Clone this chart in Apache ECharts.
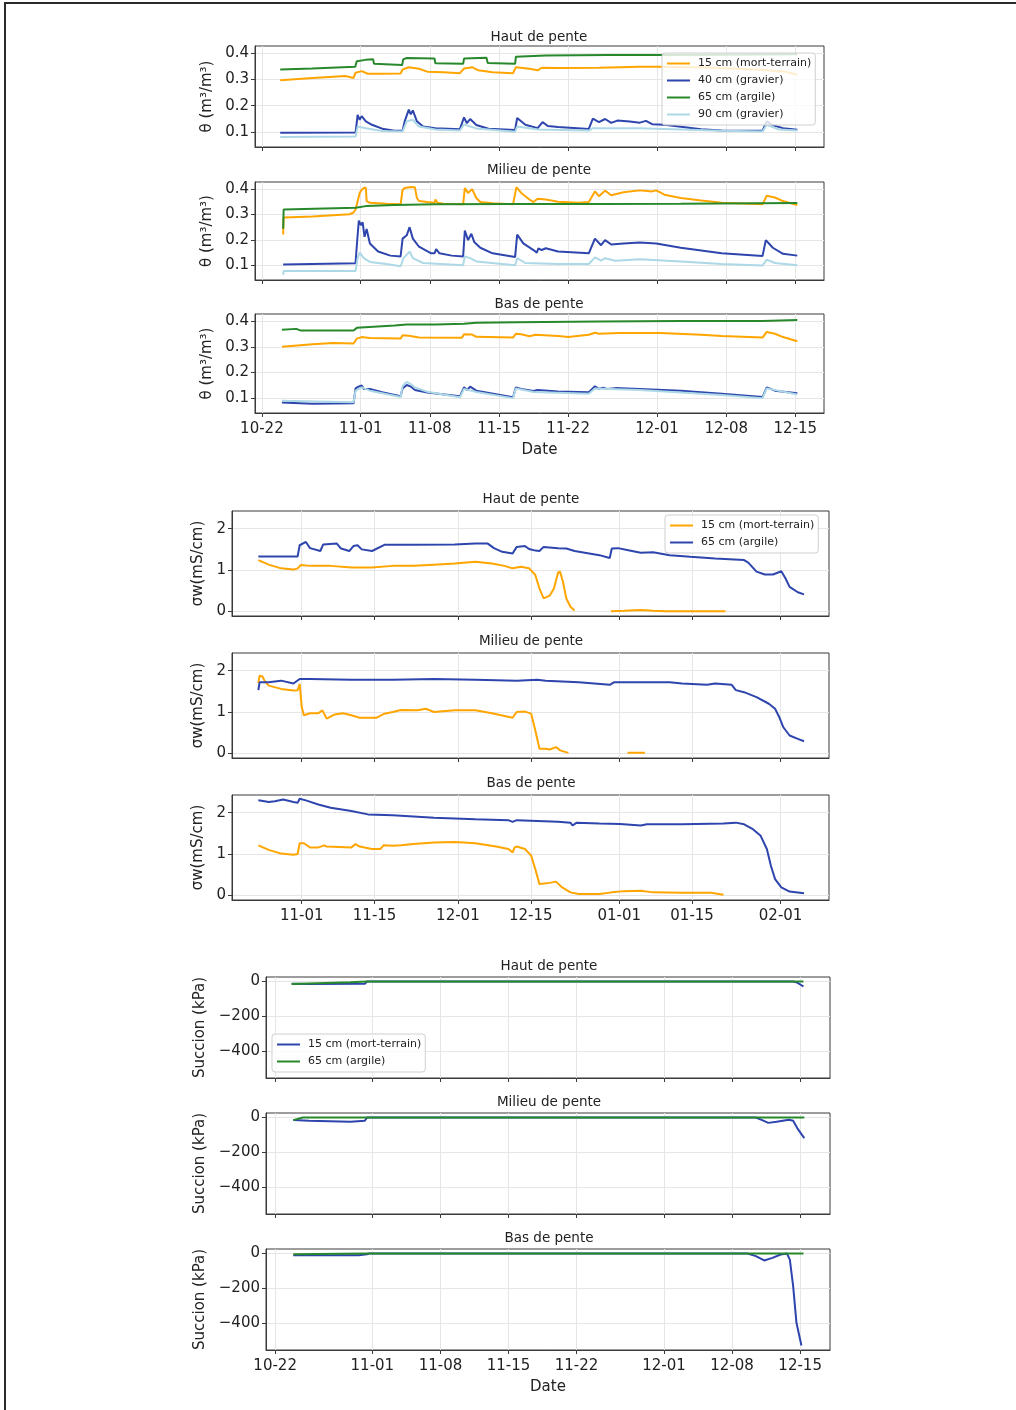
<!DOCTYPE html>
<html><head><meta charset="utf-8">
<script src="https://cdn.jsdelivr.net/npm/echarts@6/dist/echarts.min.js"></script>
<style>
html,body{margin:0;padding:0;background:#fff;overflow:hidden;width:1016px;height:1410px;}
#c{width:1016px;height:1410px;position:absolute;left:0;top:0;}
#frame{position:absolute;left:4px;top:2px;width:1030px;height:1430px;border-left:2px solid #2b2b2b;border-top:2px solid #2b2b2b;pointer-events:none;}
</style>
</head><body><div id="c"></div><div id="frame"></div>
<script>
// x values = days elapsed since 2021-10-22 (00:00)
const T0 = Date.UTC(2021, 9, 22);

// ---- tick labels ----
const thetaTicks = ['10-22','11-01','11-08','11-15','11-22','12-01','12-08','12-15'];
const sigmaTicks = ['11-01','11-15','12-01','12-15','01-01','01-15','02-01'];
const succionTicks = ['10-22','11-01','11-08','11-15','11-22','12-01','12-08','12-15'];
const thetaYTicks = [0.1, 0.2, 0.3, 0.4];
const sigmaYTicks = [0, 1, 2];
const succionYTicks = [-400, -200, 0];

// ---- names ----
const n15 = '15 cm (mort-terrain)', n40 = '40 cm (gravier)', n65 = '65 cm (argile)', n90 = '90 cm (gravier)';

// ---- θ Haut de pente ----
const hautT15 = [[1.85,0.297],[5.13,0.306],[8.45,0.313],[9.28,0.306],[9.48,0.326],[10.1,0.332],[10.72,0.322],[12.17,0.322],[14.04,0.323],[14.24,0.338],[14.87,0.347],[15.9,0.341],[16.73,0.330],[18.39,0.328],[20.04,0.324],[20.46,0.342],[21.28,0.347],[21.9,0.335],[23.35,0.328],[25.42,0.324],[25.71,0.347],[27.08,0.341],[27.91,0.335],[28.32,0.345],[29.98,0.344],[34.12,0.345],[38.26,0.349],[40,0.349],[45,0.346],[50,0.338],[53,0.330],[54.2,0.318]];
const hautT40 = [[1.85,0.096],[9.48,0.097],[9.69,0.165],[9.9,0.146],[10.1,0.160],[10.52,0.140],[11.14,0.127],[12.17,0.112],[13.42,0.104],[14.24,0.104],[14.45,0.140],[14.87,0.185],[15.07,0.167],[15.28,0.182],[15.69,0.140],[16.31,0.120],[17.56,0.114],[20.04,0.110],[20.46,0.155],[20.75,0.133],[21.08,0.149],[21.7,0.126],[22.94,0.112],[25.63,0.107],[25.84,0.153],[26.67,0.127],[27.91,0.114],[28.41,0.137],[28.94,0.122],[29.98,0.118],[33.09,0.111],[33.5,0.150],[34.12,0.137],[34.74,0.149],[35.36,0.134],[35.98,0.143],[37.23,0.139],[38.26,0.135],[38.88,0.142],[39.5,0.129],[40.75,0.127],[44.47,0.110],[46.54,0.105],[50.68,0.104],[51.1,0.140],[51.72,0.125],[52.75,0.114],[54.2,0.108]];
const hautT65 = [[1.85,0.338],[5.1,0.342],[9.45,0.349],[9.6,0.370],[10.5,0.375],[11.26,0.377],[11.35,0.360],[14.2,0.355],[14.3,0.377],[14.66,0.382],[17.47,0.380],[17.56,0.362],[20.37,0.360],[20.46,0.380],[22.73,0.383],[22.86,0.363],[25.63,0.360],[25.71,0.387],[28.74,0.392],[35,0.394],[40,0.394],[46,0.395],[54.2,0.396]];
const hautT90 = [[1.85,0.080],[9.48,0.082],[9.69,0.120],[10.52,0.114],[12.17,0.103],[14.24,0.101],[14.66,0.140],[15.28,0.146],[15.9,0.120],[17.56,0.109],[20.04,0.105],[20.46,0.128],[21.7,0.113],[25.63,0.100],[25.84,0.120],[27.91,0.109],[33.09,0.105],[33.5,0.114],[38.26,0.114],[46.54,0.104],[50.68,0.101],[51.1,0.127],[52.34,0.109],[54.2,0.105]];

// ---- θ Milieu de pente ----
const milieuT15 = [[2.15,0.221],[2.2,0.288],[5.13,0.292],[8.86,0.301],[9.28,0.308],[9.48,0.320],[9.9,0.385],[10.1,0.397],[10.31,0.404],[10.52,0.405],[10.6,0.353],[10.93,0.346],[12.59,0.342],[14.04,0.340],[14.24,0.397],[14.45,0.404],[15.07,0.408],[15.49,0.407],[15.69,0.365],[15.9,0.353],[16.73,0.349],[17.47,0.346],[17.56,0.359],[17.76,0.346],[18.39,0.342],[20.37,0.340],[20.54,0.404],[20.87,0.385],[21.28,0.400],[21.7,0.365],[22.11,0.349],[23.35,0.344],[25.42,0.340],[25.76,0.408],[26.25,0.385],[27.08,0.359],[27.49,0.349],[27.91,0.362],[28.74,0.359],[29.98,0.350],[32.05,0.346],[33.09,0.349],[33.71,0.391],[34.12,0.372],[34.74,0.394],[35.36,0.376],[36.6,0.388],[38.26,0.395],[39.5,0.391],[39.92,0.395],[40.75,0.378],[42.4,0.365],[44.47,0.355],[46.54,0.346],[50.68,0.340],[51.1,0.374],[51.93,0.367],[52.75,0.353],[54.2,0.337]];
const milieuT40 = [[2.15,0.103],[9.48,0.108],[9.61,0.180],[9.81,0.276],[10.02,0.258],[10.19,0.270],[10.39,0.212],[10.6,0.243],[10.93,0.186],[11.76,0.154],[13.0,0.138],[14.04,0.135],[14.24,0.205],[14.66,0.218],[14.95,0.250],[15.28,0.205],[15.9,0.173],[17.14,0.147],[17.47,0.147],[17.64,0.164],[17.97,0.147],[19.21,0.138],[20.37,0.135],[20.54,0.237],[20.87,0.199],[21.2,0.224],[21.49,0.192],[22.11,0.169],[23.35,0.147],[25.63,0.133],[25.84,0.221],[26.46,0.186],[27.49,0.160],[27.83,0.150],[27.99,0.167],[28.32,0.160],[28.74,0.167],[29.98,0.154],[33.09,0.147],[33.71,0.205],[34.33,0.179],[34.74,0.199],[35.36,0.182],[36.6,0.186],[38.26,0.190],[39.92,0.186],[42.4,0.169],[46.54,0.147],[50.68,0.137],[51.01,0.199],[51.72,0.169],[52.75,0.145],[54.2,0.138]];
const milieuT65 = [[2.15,0.244],[2.2,0.320],[9.48,0.327],[10.52,0.333],[13.42,0.337],[17.56,0.340],[25.84,0.341],[34.12,0.341],[42.4,0.342],[54.2,0.345]];
const milieuT90 = [[2.15,0.062],[2.2,0.077],[9.48,0.077],[9.69,0.128],[9.9,0.150],[10.31,0.128],[10.93,0.113],[12.59,0.105],[14.04,0.096],[14.33,0.128],[14.95,0.154],[15.28,0.128],[16.31,0.109],[20.37,0.100],[20.54,0.135],[21.08,0.128],[21.7,0.115],[25.63,0.100],[25.84,0.128],[26.67,0.109],[29.98,0.105],[33.09,0.105],[33.71,0.131],[34.33,0.118],[34.74,0.128],[35.78,0.118],[38.26,0.124],[42.4,0.115],[46.54,0.105],[50.68,0.099],[51.1,0.122],[51.93,0.109],[54.2,0.100]];

// ---- θ Bas de pente ----
const basT15 = [[2.03,0.300],[5.13,0.310],[7.2,0.315],[9.28,0.313],[9.48,0.310],[9.61,0.332],[10.1,0.338],[10.93,0.334],[14.04,0.332],[14.24,0.345],[14.87,0.343],[15.9,0.336],[20.25,0.335],[20.46,0.349],[21.28,0.348],[21.7,0.339],[25.42,0.336],[25.71,0.351],[26.25,0.349],[27.08,0.341],[27.7,0.347],[29.98,0.342],[31.01,0.338],[33.09,0.347],[33.71,0.355],[34.12,0.351],[36.19,0.354],[40.33,0.354],[44.47,0.347],[46.54,0.342],[50.68,0.336],[51.1,0.358],[51.93,0.351],[52.75,0.338],[54.2,0.322]];
const basT40 = [[2.03,0.083],[5.13,0.078],[9.28,0.080],[9.48,0.138],[9.77,0.145],[10.1,0.149],[10.31,0.136],[10.93,0.136],[12.17,0.123],[14.04,0.107],[14.24,0.138],[14.66,0.151],[15.07,0.145],[15.49,0.132],[16.73,0.122],[20.04,0.107],[20.46,0.142],[20.79,0.132],[21.08,0.145],[21.7,0.129],[25.42,0.103],[25.71,0.142],[26.25,0.136],[27.49,0.128],[27.91,0.132],[29.98,0.126],[33.09,0.123],[33.71,0.146],[34.12,0.136],[34.53,0.141],[34.95,0.136],[35.78,0.139],[38.26,0.136],[42.4,0.129],[46.54,0.117],[50.68,0.104],[51.1,0.142],[51.93,0.129],[54.2,0.119]];
const basT65 = [[2.03,0.367],[3.48,0.370],[3.89,0.364],[9.28,0.364],[9.61,0.374],[13.42,0.383],[14.66,0.387],[17.56,0.387],[20.46,0.390],[21.7,0.394],[25.84,0.396],[34.12,0.399],[42.4,0.401],[50.68,0.401],[54.2,0.405]];
const basT90 = [[2.03,0.090],[9.28,0.084],[9.48,0.129],[10.1,0.142],[10.93,0.129],[14.04,0.104],[14.24,0.147],[14.66,0.163],[15.07,0.155],[15.49,0.142],[16.73,0.125],[20.04,0.103],[20.46,0.136],[21.7,0.124],[25.42,0.100],[25.71,0.138],[27.49,0.124],[33.09,0.117],[33.71,0.138],[38.26,0.132],[46.54,0.112],[50.68,0.100],[51.1,0.138],[54.2,0.114]];

// ---- σw ----
const hautS15 = [[1.66,1.24],[3.65,1.13],[6.03,1.04],[8.41,1.01],[9.21,1.04],[9.84,1.12],[11.59,1.10],[15.56,1.10],[19.53,1.06],[23.5,1.06],[27.47,1.10],[31.45,1.10],[35.42,1.13],[39.39,1.16],[43.36,1.20],[46.54,1.16],[48.92,1.10],[50.51,1.04],[52.1,1.08],[53.69,1.04],[54.88,0.88],[55.67,0.55],[56.47,0.31],[57.66,0.38],[58.45,0.55],[59.25,0.94],[59.64,0.96],[60.2,0.71],[60.83,0.31],[61.63,0.11],[62.42,0.02],[65,null],[69.41,0.00],[71.95,0.01],[75.13,0.03],[77.51,0.01],[79.9,0.00],[91.41,0.00]];
const hautS65 = [[1.66,1.33],[9.21,1.33],[9.6,1.60],[10.79,1.68],[11.59,1.53],[13.57,1.46],[14.13,1.62],[16.75,1.64],[17.55,1.52],[19.13,1.46],[19.93,1.58],[20.72,1.60],[21.52,1.50],[23.5,1.46],[25.89,1.61],[31.45,1.61],[39.39,1.62],[43.36,1.64],[45.74,1.64],[46.93,1.53],[48.52,1.44],[50.51,1.40],[51.3,1.56],[52.89,1.58],[53.69,1.51],[54.88,1.47],[55.67,1.46],[56.47,1.56],[59.25,1.53],[60.83,1.52],[62.42,1.46],[67.19,1.36],[69.17,1.29],[69.57,1.52],[70.76,1.53],[72.75,1.48],[75.13,1.42],[77.51,1.43],[80.69,1.36],[84.66,1.32],[89.43,1.28],[94.99,1.24],[95.79,1.18],[97.37,0.96],[98.96,0.89],[100.55,0.89],[102.14,0.97],[102.93,0.80],[103.73,0.59],[105.31,0.46],[106.5,0.41]];
const milieuS15 = [[1.66,1.70],[1.9,1.88],[2.45,1.86],[2.85,1.76],[3.65,1.64],[6.03,1.56],[8.41,1.52],[9.21,1.53],[9.6,1.68],[10.0,1.12],[10.4,0.92],[11.59,0.97],[13.18,0.97],[13.97,1.04],[14.77,0.84],[16.35,0.94],[17.94,0.97],[19.53,0.92],[21.12,0.86],[24.3,0.86],[25.89,0.96],[27.47,1.00],[29.06,1.05],[32.24,1.04],[33.83,1.08],[35.42,1.00],[39.39,1.04],[43.36,1.04],[46.54,0.97],[50.51,0.86],[51.3,1.00],[52.89,1.01],[54.08,0.96],[54.88,0.55],[55.67,0.11],[56.86,0.11],[57.66,0.09],[58.85,0.15],[59.64,0.07],[61.23,0.01],[66,null],[72.59,0.01],[75.93,0.01]];
const milieuS65 = [[1.66,1.53],[1.9,1.72],[3.65,1.72],[6.03,1.76],[8.41,1.69],[9.6,1.80],[11.59,1.80],[19.53,1.78],[27.47,1.78],[35.42,1.80],[43.36,1.78],[51.3,1.76],[55.27,1.78],[56.86,1.76],[63.22,1.72],[69.17,1.66],[69.97,1.72],[75.13,1.72],[80.69,1.72],[83.07,1.69],[87.84,1.66],[89.43,1.69],[92.6,1.66],[93.4,1.53],[94.99,1.48],[97.37,1.36],[99.75,1.20],[100.94,1.08],[101.73,0.88],[102.53,0.63],[103.73,0.43],[105.31,0.35],[106.5,0.29]];
const basS15 = [[1.66,1.21],[3.65,1.10],[6.03,1.01],[8.41,0.98],[9.21,1.00],[9.6,1.26],[10.4,1.26],[11.59,1.16],[13.18,1.16],[14.37,1.21],[14.77,1.18],[19.53,1.16],[20.33,1.24],[21.12,1.18],[23.5,1.12],[25.09,1.12],[25.73,1.21],[27.47,1.20],[29.06,1.21],[31.45,1.24],[35.42,1.28],[39.39,1.29],[43.36,1.26],[47.33,1.18],[49.71,1.12],[50.51,1.04],[50.91,1.16],[51.3,1.18],[52.89,1.12],[54.08,0.96],[54.88,0.63],[55.67,0.27],[57.66,0.30],[58.85,0.33],[60.04,0.19],[61.63,0.07],[63.22,0.03],[67.19,0.03],[69.57,0.07],[71.95,0.10],[75.13,0.11],[77.51,0.07],[83.07,0.06],[88.63,0.06],[91.02,0.01]];
const basS65 = [[1.66,2.30],[2.85,2.28],[3.65,2.26],[4.84,2.28],[6.43,2.32],[8.41,2.26],[9.21,2.24],[9.6,2.34],[10.79,2.30],[13.18,2.20],[15.56,2.12],[19.53,2.04],[22.71,1.96],[27.47,1.94],[35.42,1.88],[43.36,1.84],[49.71,1.82],[50.51,1.78],[51.3,1.82],[59.25,1.78],[61.63,1.76],[62.03,1.69],[62.82,1.76],[67.19,1.74],[71.16,1.73],[75.13,1.69],[76.32,1.72],[83.07,1.72],[91.02,1.74],[93.4,1.76],[94.99,1.72],[96.58,1.61],[98.17,1.44],[99.36,1.12],[100.15,0.71],[100.94,0.39],[102.14,0.19],[103.73,0.09],[106.5,0.05]];

// ---- Succion ----
const hautU15 = [[1.7,-13],[3.49,-14],[9.23,-13],[9.45,0],[53.28,0],[53.7,-6],[54.34,-29]];
const hautU65 = [[1.7,-14],[7.74,-4],[9.45,0],[54.34,0]];
const milieuU15 = [[1.87,-15],[3.49,-19],[7.74,-25],[9.23,-19],[9.45,0],[49.45,0],[50.09,-15],[50.72,-31],[51.57,-25],[52.85,-13],[53.28,-19],[53.7,-61],[54.13,-96],[54.43,-119]];
const milieuU65 = [[1.87,-15],[2.85,0],[54.43,0]];
const basU15 = [[1.87,-10],[8.6,-10],[9.45,-4],[9.66,0],[48.6,0],[49.45,-15],[50.3,-40],[51.15,-25],[52.0,-6],[52.64,0],[52.94,-35],[53.28,-188],[53.62,-400],[54.13,-531]];
const basU65 = [[1.87,-4],[9.45,0],[54.34,0]];

// ---- styling ----
const ORANGE = '#ffa500', BLUE = '#2e45ad', GREEN = '#27892b', LBLUE = '#add8e6';
const FONT = 'DejaVu Sans';
const TXT = '#222';
const AX = '#3a3a3a';

function toTime(d) { return T0 + d * 86400000; }
function parseTick(s) {
  const m = +s.slice(0, 2), d = +s.slice(3);
  return Date.UTC(m >= 7 ? 2021 : 2022, m - 1, d);
}
function pad(n) { return (n < 10 ? '0' : '') + n; }
function fmtDate(v) { const dt = new Date(v); return pad(dt.getUTCMonth() + 1) + '-' + pad(dt.getUTCDate()); }
function fmtMinus(v) { return v < 0 ? '\u2212' + Math.abs(v) : String(v); }

const grids = [
  {left:255, top:46,  width:569, height:101},
  {left:255, top:182, width:569, height:98},
  {left:255, top:314, width:569, height:99},
  {left:232, top:511, width:597, height:105},
  {left:232, top:653, width:597, height:105},
  {left:232, top:795, width:597, height:105},
  {left:266, top:977, width:564, height:101},
  {left:266, top:1113, width:564, height:101},
  {left:266, top:1249, width:564, height:101}
].map(g => Object.assign({show:true, borderColor:AX, borderWidth:1, backgroundColor:'transparent'}, g));

const xRanges = [[-0.7,56.9],[-0.7,56.9],[-0.7,56.9],[-3.4,111.3],[-3.4,111.3],[-3.4,111.3],[-0.94,57.07],[-0.94,57.07],[-0.94,57.07]];
const xTickSets = [thetaTicks,thetaTicks,thetaTicks,sigmaTicks,sigmaTicks,sigmaTicks,succionTicks,succionTicks,succionTicks];
const labelShown = [false,false,true,false,false,true,false,false,true];

const xAxes = grids.map((g, i) => {
  const ticks = xTickSets[i].map(parseTick);
  const ax = {
    type:'value', gridIndex:i, min:toTime(xRanges[i][0]), max:toTime(xRanges[i][1]), scale:true,
    axisLine:{show:true, onZero:false, lineStyle:{color:AX, width:1}},
    axisTick:{show:true, length:4, lineStyle:{color:AX, width:1}, customValues:ticks},
    axisLabel:{show:labelShown[i], customValues:ticks, formatter:fmtDate, fontFamily:FONT, fontSize:15, color:TXT, margin:9},
    splitLine:{show:true, lineStyle:{color:'#e6e6e6', width:1}}
  };
  if (i === 2 || i === 8) {
    ax.name = 'Date'; ax.nameLocation = 'middle'; ax.nameGap = 30;
    ax.nameTextStyle = {fontFamily:FONT, fontSize:15, color:TXT};
  }
  return ax;
});

const yCfg = [
  {range:[0.042,0.428], ticks:thetaYTicks, fmt:v=>v.toFixed(1), name:'θ (m³/m³)', gap:40},
  {range:[-0.115,2.43], ticks:sigmaYTicks, fmt:v=>String(v), name:'σw(mS/cm)', gap:22},
  {range:[-557,26], ticks:succionYTicks, fmt:fmtMinus, name:'Succion (kPa)', gap:57}
];
const yAxes = grids.map((g, i) => {
  const c = yCfg[Math.floor(i / 3)];
  return {
    type:'value', gridIndex:i, min:c.range[0], max:c.range[1],
    name:c.name, nameLocation:'middle', nameGap:c.gap, nameRotate:90,
    nameTextStyle:{fontFamily:FONT, fontSize:15, color:TXT},
    axisLine:{show:true, onZero:false, lineStyle:{color:AX, width:1}},
    axisTick:{show:true, length:4, lineStyle:{color:AX, width:1}, customValues:c.ticks},
    axisLabel:{customValues:c.ticks, formatter:c.fmt, fontFamily:FONT, fontSize:15, color:TXT, margin:6},
    splitLine:{show:true, lineStyle:{color:'#e6e6e6', width:1}}
  };
});

function line(name, data, color, gi) {
  return {
    type:'line', name:name, xAxisIndex:gi, yAxisIndex:gi,
    data:data.map(p => [toTime(p[0]), p[1] === null ? '-' : p[1]]),
    symbol:'none', showSymbol:false, connectNulls:false,
    lineStyle:{color:color, width:2}, itemStyle:{color:color},
    emphasis:{disabled:true}, animation:false
  };
}

const series = [
  line(n15, hautT15, ORANGE, 0), line(n40, hautT40, BLUE, 0), line(n65, hautT65, GREEN, 0), line(n90, hautT90, LBLUE, 0),
  line(n15, milieuT15, ORANGE, 1), line(n40, milieuT40, BLUE, 1), line(n65, milieuT65, GREEN, 1), line(n90, milieuT90, LBLUE, 1),
  line(n15, basT15, ORANGE, 2), line(n40, basT40, BLUE, 2), line(n65, basT65, GREEN, 2), line(n90, basT90, LBLUE, 2),
  line(n15, hautS15, ORANGE, 3), line(n65, hautS65, BLUE, 3),
  line(n15, milieuS15, ORANGE, 4), line(n65, milieuS65, BLUE, 4),
  line(n15, basS15, ORANGE, 5), line(n65, basS65, BLUE, 5),
  line(n15, hautU15, BLUE, 6), line(n65, hautU65, GREEN, 6),
  line(n15, milieuU15, BLUE, 7), line(n65, milieuU65, GREEN, 7),
  line(n15, basU15, BLUE, 8), line(n65, basU65, GREEN, 8)
];

const titles = [
  ['Haut de pente', 539, 30], ['Milieu de pente', 539, 163], ['Bas de pente', 539, 297],
  ['Haut de pente', 531, 492], ['Milieu de pente', 531, 634], ['Bas de pente', 531, 776],
  ['Haut de pente', 549, 959], ['Milieu de pente', 549, 1095], ['Bas de pente', 549, 1231]
].map(t => ({text:t[0], left:t[1], top:t[2], textAlign:'center', padding:0,
  textStyle:{fontFamily:FONT, fontSize:13.5, fontWeight:'normal', color:TXT}}));

function legItem(name, color) { return {name:name, icon:'rect', itemStyle:{color:color}, lineStyle:{color:color}}; }
const legBase = {
  orient:'vertical', itemWidth:23, itemHeight:2, itemGap:6, padding:[5,4,5,5],
  backgroundColor:'rgba(255,255,255,0.8)', borderColor:'#cfcfcf', borderWidth:1, borderRadius:3,
  textStyle:{fontFamily:FONT, fontSize:11, color:TXT, padding:[0,0,0,3]}, selectedMode:false
};
const legends = [
  Object.assign({}, legBase, {left:662, top:53, data:[legItem(n15,ORANGE),legItem(n40,BLUE),legItem(n65,GREEN),legItem(n90,LBLUE)]}),
  Object.assign({}, legBase, {left:665, top:515, data:[legItem(n15,ORANGE),legItem(n65,BLUE)]}),
  Object.assign({}, legBase, {left:272, top:1034, data:[legItem(n15,BLUE),legItem(n65,GREEN)]})
];

const chart = echarts.init(document.getElementById('c'), null, {renderer:'canvas', width:1016, height:1410});
chart.setOption({
  backgroundColor:'#ffffff',
  animation:false,
  title:titles,
  legend:legends,
  grid:grids,
  xAxis:xAxes,
  yAxis:yAxes,
  series:series
});
</script>
</body></html>
